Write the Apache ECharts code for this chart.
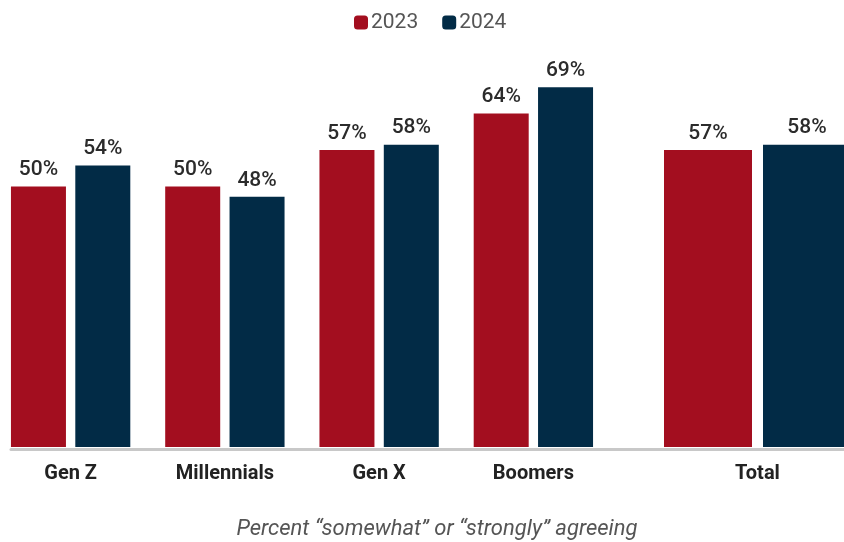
<!DOCTYPE html>
<html><head><meta charset="utf-8">
<script src="https://cdn.jsdelivr.net/npm/echarts@6/dist/echarts.min.js"></script>
<style>html,body{margin:0;padding:0;background:#fff}#c{width:844px;height:542px}</style>
</head><body><div id="c"></div>
<script>
const genCategories = ['Gen Z', 'Millennials', 'Gen X', 'Boomers'];
const totalCategories = ['Total'];
const gen2023 = [50, 50, 57, 64];
const gen2024 = [54, 48, 58, 69];
const total2023 = [57];
const total2024 = [58];
const seriesNames = ['2023', '2024'];
const RED = '#A30E1F', NAVY = '#022B46';
const FONT = 'Roboto, sans-serif';

const chart = echarts.init(document.getElementById('c'));
const labelStyle = {show: true, position: 'top', distance: 6, formatter: '{c}%', color: '#2b2b2b', fontSize: 21, fontWeight: 500, fontFamily: FONT};
const axisLabelStyle = {color: '#222', fontSize: 20, fontWeight: 'bold', fontFamily: FONT, margin: 17};
chart.setOption({
  animation: false,
  legend: {
    top: 7, left: 349, itemWidth: 14, itemHeight: 14, itemGap: 24,
    textStyle: {color: '#555', fontSize: 21, fontFamily: FONT, padding: [0, 0, 0, -2]},
    data: seriesNames
  },
  title: {
    text: 'Percent “somewhat” or “strongly” agreeing',
    left: 432, textAlign: 'center', top: 513,
    textStyle: {color: '#555', fontSize: 22, fontStyle: 'italic', fontWeight: 'normal', fontFamily: FONT}
  },
  grid: [
    {left: -6.5, width: 617, top: 30, bottom: 95, outerBoundsMode: 'none'},
    {left: 610.5, width: 294, top: 30, bottom: 95, outerBoundsMode: 'none'},
    {left: 11, right: 0, top: 30, bottom: 93, outerBoundsMode: 'none'}
  ],
  xAxis: [
    {type: 'category', gridIndex: 0, data: genCategories, axisLine: {show: false}, axisTick: {show: false}, axisLabel: axisLabelStyle},
    {type: 'category', gridIndex: 1, data: totalCategories, axisLine: {show: false}, axisTick: {show: false}, axisLabel: axisLabelStyle},
    {type: 'category', gridIndex: 2, data: [''], axisLine: {show: true, lineStyle: {color: '#c8c8c8', width: 3}}, axisTick: {show: false}, axisLabel: {show: false}}
  ],
  yAxis: [
    {type: 'value', gridIndex: 0, min: 0, max: 80, show: false},
    {type: 'value', gridIndex: 1, min: 0, max: 80, show: false},
    {type: 'value', gridIndex: 2, min: 0, max: 80, show: false}
  ],
  series: [
    {name: seriesNames[0], type: 'bar', xAxisIndex: 0, yAxisIndex: 0, data: gen2023, barWidth: 55, barGap: '17%', itemStyle: {color: RED}, label: labelStyle},
    {name: seriesNames[1], type: 'bar', xAxisIndex: 0, yAxisIndex: 0, data: gen2024, barWidth: 55, barGap: '17%', itemStyle: {color: NAVY}, label: labelStyle},
    {name: seriesNames[0], type: 'bar', xAxisIndex: 1, yAxisIndex: 1, data: total2023, barWidth: 88, barGap: '12.5%', itemStyle: {color: RED}, label: labelStyle},
    {name: seriesNames[1], type: 'bar', xAxisIndex: 1, yAxisIndex: 1, data: total2024, barWidth: 88, barGap: '12.5%', itemStyle: {color: NAVY}, label: labelStyle}
  ]
});
</script></body></html>
